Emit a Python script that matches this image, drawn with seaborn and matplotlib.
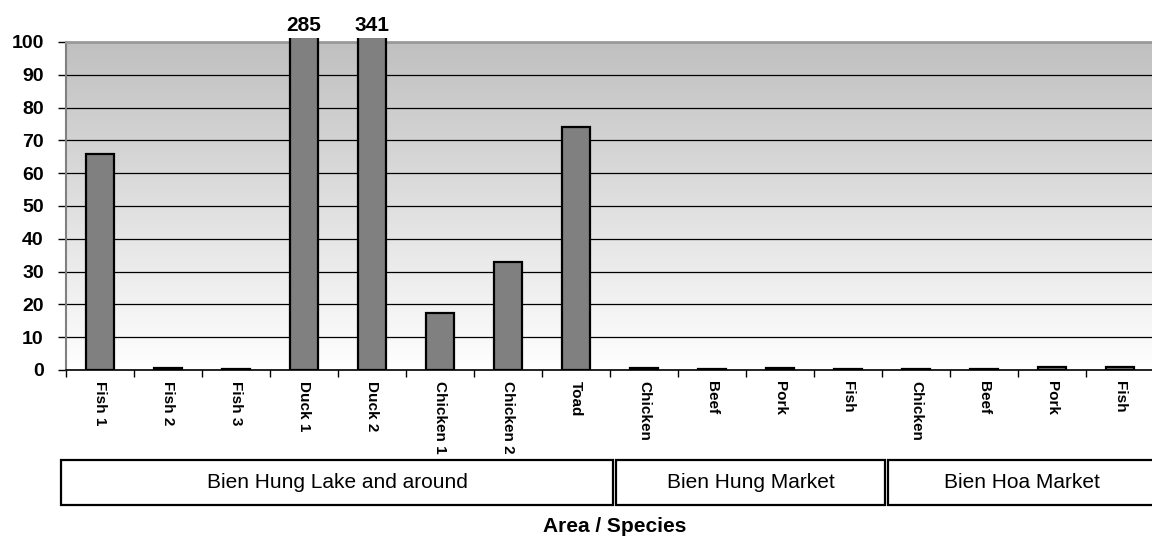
import numpy as np
import pandas as pd
import matplotlib
matplotlib.use("Agg")
import matplotlib.pyplot as plt
from matplotlib.patches import Rectangle
from matplotlib.colors import LinearSegmentedColormap
import matplotlib.transforms as mtransforms
import seaborn as sns

# Sample labels, their sampling area and measured values
species = ["Fish 1", "Fish 2", "Fish 3", "Duck 1", "Duck 2", "Chicken 1", "Chicken 2", "Toad",
           "Chicken", "Beef", "Pork", "Fish",
           "Chicken", "Beef", "Pork", "Fish"]
areas = ["Bien Hung Lake and around"] * 8 + ["Bien Hung Market"] * 4 + ["Bien Hoa Market"] * 4
values = [66, 0.6, 0.3, 285, 341, 17.5, 33, 74,
          0.7, 0.3, 0.6, 0.3,
          0.3, 0.3, 1.0, 0.8]
y_ticks = [0, 10, 20, 30, 40, 50, 60, 70, 80, 90, 100]
x_title = "Area / Species"

sns.set_style("white")
plt.rcParams["font.family"] = ["Liberation Sans", "DejaVu Sans"]
plt.rcParams["text.color"] = "black"
plt.rcParams["xtick.color"] = "black"
plt.rcParams["ytick.color"] = "black"
plt.rcParams["axes.labelcolor"] = "black"

df = pd.DataFrame({"sample": [f"{a} | {s}" for a, s in zip(areas, species)],
                   "value": values})
n = len(df)

fig = plt.figure(figsize=(11.52, 5.37), dpi=100)
ax = fig.add_axes([66 / 1152, 1 - 370 / 537, 1088 / 1152, 328 / 537])

sns.barplot(data=df, x="sample", y="value", ax=ax, color="#808080", saturation=1,
            width=0.4, edgecolor="black", linewidth=1.6, zorder=3)

# vertical grey-to-white background
cmap = LinearSegmentedColormap.from_list("bg", ["#ffffff", "#c0c0c0"])
ax.imshow(np.linspace(0, 1, 256)[:, None], extent=(-0.5, n - 0.5, 0, 100), origin="lower",
          cmap=cmap, aspect="auto", zorder=0)
ax.set_xlim(-0.5, n - 0.5)
ax.set_ylim(0, 100)

# let tall bars poke slightly above the plot frame
clip = Rectangle((0, 0), 1, 1.013, transform=ax.transAxes)
for p in ax.patches:
    p.set_clip_path(clip)

# value labels for bars that exceed the axis range
for i, v in enumerate(values):
    if v > 100:
        ax.annotate(f"{v:.0f}", xy=(i, 100), xytext=(0, 5), textcoords="offset points",
                    ha="center", va="bottom", fontsize=15, fontweight="bold",
                    color="black", annotation_clip=False)

# horizontal grid
ax.set_yticks(y_ticks)
ax.yaxis.grid(True, color="black", linewidth=0.9, zorder=1)
ax.set_axisbelow(True)
ax.tick_params(axis="y", direction="out", length=6, width=1, color="black", pad=10,
               left=True, labelcolor="black")
for lab in ax.get_yticklabels():
    lab.set_fontsize(14)
    lab.set_fontweight("bold")

# category boundaries as major ticks, names as minor tick labels
ax.set_xticks(np.arange(-0.5, n, 1.0))
ax.set_xticklabels([])
ax.set_xticks(np.arange(n), minor=True)
ax.set_xticklabels(species, minor=True, rotation=-90, fontsize=11, fontweight="bold",
                   va="top", ha="center", color="black")
ax.tick_params(axis="x", which="major", direction="out", length=5, width=1,
               color="black", bottom=True)
ax.tick_params(axis="x", which="minor", length=0, pad=8)
ax.set_xlabel("")
ax.set_ylabel("")

ax.spines["right"].set_visible(False)
ax.spines["top"].set_color("#9a9a9a")
ax.spines["top"].set_linewidth(2)
ax.spines["left"].set_color("#808080")
ax.spines["left"].set_linewidth(1.5)
ax.spines["bottom"].set_color("black")
ax.spines["bottom"].set_linewidth(1.2)

# area boxes under the species names
trans = mtransforms.blended_transform_factory(ax.transData, fig.transFigure)
y0 = 1 - 505 / 537
h = 45 / 537
group_names = []
for a in areas:
    if a not in group_names:
        group_names.append(a)
for g in group_names:
    idx = [i for i, a in enumerate(areas) if a == g]
    x0 = idx[0] - 0.5 + 0.09 if idx[0] > 0 else -0.57
    x1 = idx[-1] + 0.5 + 0.04
    box = Rectangle((x0, y0), x1 - x0, h, transform=trans, facecolor="white",
                    edgecolor="black", linewidth=1.6, clip_on=False)
    fig.add_artist(box)
    fig.text((x0 + x1) / 2, y0 + h / 2, g, transform=trans, fontsize=15,
             ha="center", va="center", color="black")

fig.text(615 / 1152, 1 - 527 / 537, x_title, ha="center", va="center",
         fontsize=15, fontweight="bold", color="black")

fig.savefig("out.png", dpi=100)
